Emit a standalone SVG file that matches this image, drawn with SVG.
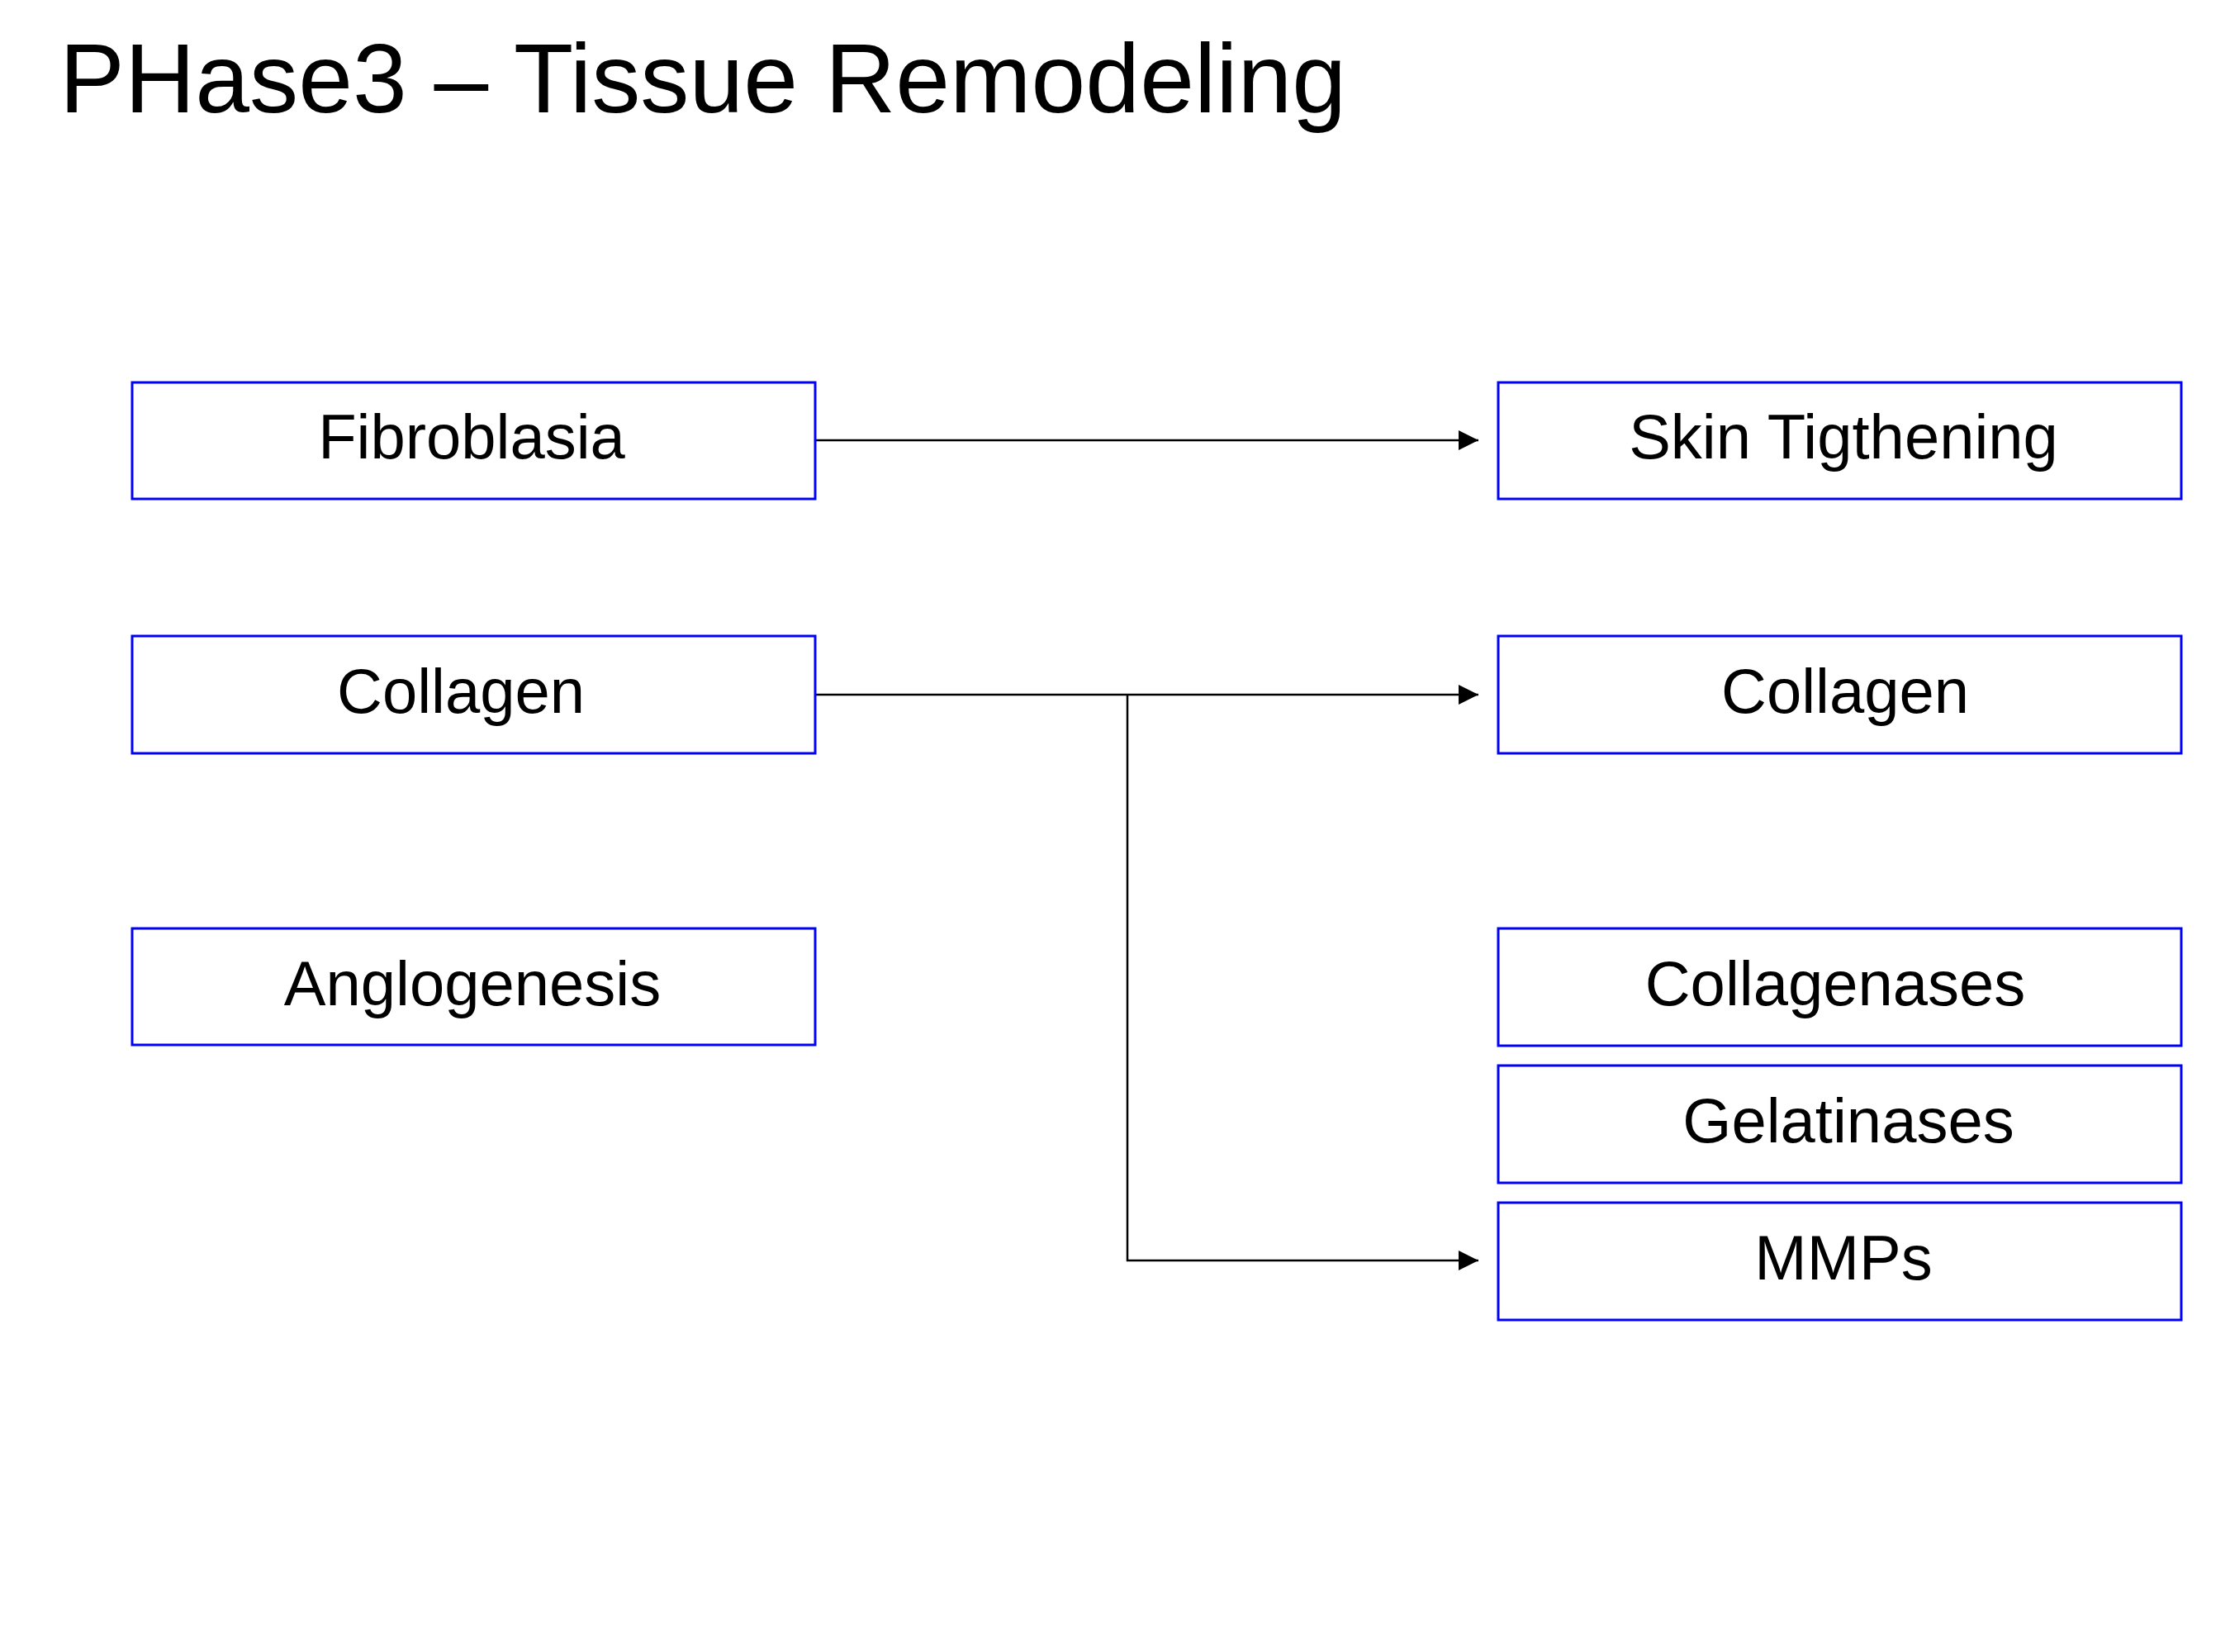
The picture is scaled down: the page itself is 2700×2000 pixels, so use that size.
<svg xmlns="http://www.w3.org/2000/svg" width="2700" height="2000" viewBox="0 0 2700 2000">
<style>
.box{fill:#ffffff;stroke:#0000ff;stroke-width:3}
.lbl{font-family:"Liberation Sans",Arial,sans-serif;font-size:76px;fill:#000000;text-anchor:middle}
.title{font-family:"Liberation Sans",Arial,sans-serif;font-size:118px;fill:#000000}
.conn{fill:none;stroke:#000000;stroke-width:2.5}
</style>
<defs>
<marker id="arr" viewBox="0 0 10 10" refX="10" refY="5" markerUnits="userSpaceOnUse" markerWidth="25" markerHeight="24" orient="auto">
<path d="M0,0 L10,5 L0,10 Z" fill="#000000"/>
</marker>
</defs>
<rect width="2700" height="2000" fill="#ffffff"/>
<text class="title" x="72" y="136" textLength="1558" lengthAdjust="spacingAndGlyphs">PHase3 – Tissue Remodeling</text>
<g id="connectors">
<line class="conn" x1="987" y1="533" x2="1790" y2="533" marker-end="url(#arr)"/>
<line class="conn" x1="987" y1="841" x2="1790" y2="841" marker-end="url(#arr)"/>
<polyline class="conn" points="1365,841 1365,1526 1790,1526" marker-end="url(#arr)"/>
</g>
<g id="fibroblasia">
<rect class="box" x="160" y="463" width="827" height="141"/>
<text class="lbl" x="571" y="555">Fibroblasia</text>
</g>
<g id="collagen-left">
<rect class="box" x="160" y="770" width="827" height="142"/>
<text class="lbl" x="558" y="863">Collagen</text>
</g>
<g id="anglogenesis">
<rect class="box" x="160" y="1124" width="827" height="141"/>
<text class="lbl" x="572" y="1217">Anglogenesis</text>
</g>
<g id="skin-tightening">
<rect class="box" x="1814" y="463" width="827" height="141"/>
<text class="lbl" x="2232" y="555">Skin Tigthening</text>
</g>
<g id="collagen-right">
<rect class="box" x="1814" y="770" width="827" height="142"/>
<text class="lbl" x="2234" y="863">Collagen</text>
</g>
<g id="collagenases">
<rect class="box" x="1814" y="1124" width="827" height="142"/>
<text class="lbl" x="2222" y="1217">Collagenases</text>
</g>
<g id="gelatinases">
<rect class="box" x="1814" y="1290" width="827" height="142"/>
<text class="lbl" x="2238" y="1383">Gelatinases</text>
</g>
<g id="mmps">
<rect class="box" x="1814" y="1456" width="827" height="142"/>
<text class="lbl" x="2232" y="1549">MMPs</text>
</g>
</svg>
